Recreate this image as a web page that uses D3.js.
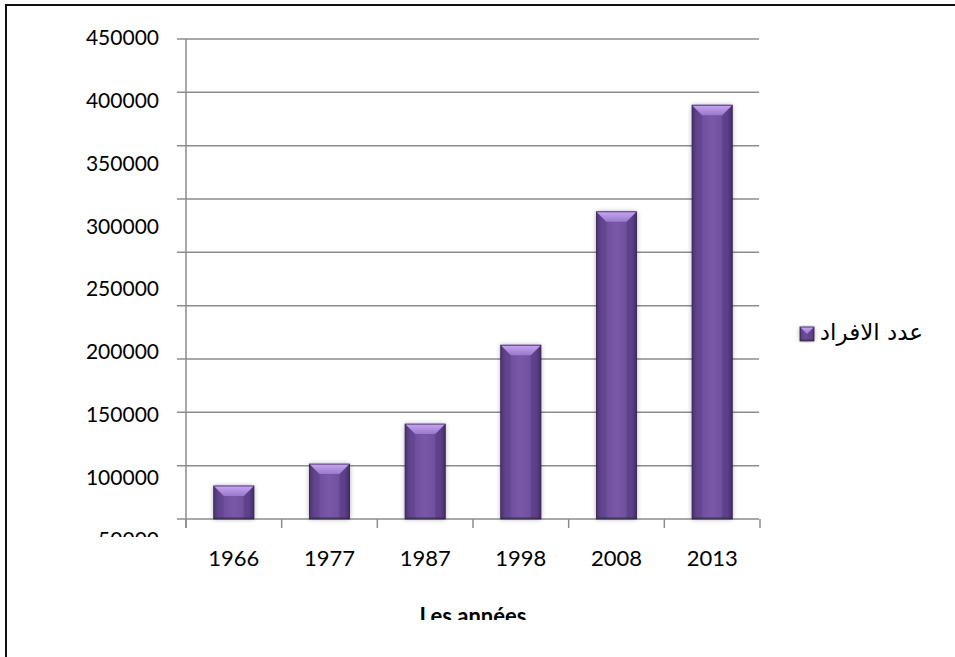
<!DOCTYPE html>
<html>
<head>
<meta charset="utf-8">
<script src="https://cdn.jsdelivr.net/npm/d3@7"></script>
<style>
  html, body { margin: 0; padding: 0; background: #fff; }
  svg { display: block; }
</style>
</head>
<body>
<svg id="chart" width="955" height="657"></svg>
<script>
// ── data ──
const years = ["1966", "1977", "1987", "1998", "2008", "2013"];
const population = [31000, 51500, 89000, 163000, 288000, 388000];
const gridValues = [0, 50000, 100000, 150000, 200000, 250000, 300000, 350000, 400000, 450000];
const tickLabels = [50000, 100000, 150000, 200000, 250000, 300000, 350000, 400000, 450000];
const seriesName = "عدد الافراد";
const axisTitle = "Les années";

const svg = d3.select("#chart");
const W = 955, H = 657;
const plot = { left: 186, right: 760, top: 39, bottom: 519 };

// gridline / bar scale and the (offset) label scale seen in the picture
const y = d3.scaleLinear().domain([0, 450000]).range([plot.bottom, plot.top]);
const yLbl = d3.scaleLinear().domain([50000, 450000]).range([540, 38]);
const x = d3.scaleBand().domain(years).range([plot.left, plot.right])
  .paddingInner(0.58).paddingOuter(0.29);

const defs = svg.append("defs");
defs.append("clipPath").attr("id", "clipY").append("rect")
  .attr("x", 0).attr("y", 0).attr("width", 180).attr("height", 537);
defs.append("clipPath").attr("id", "clipT").append("rect")
  .attr("x", 0).attr("y", 0).attr("width", W).attr("height", 620);

const gBody = defs.append("linearGradient").attr("id", "gBody").attr("x1", 0).attr("x2", 1).attr("y1", 0).attr("y2", 0);
[[0, "#4f3778"], [0.12, "#6a4b98"], [0.5, "#7a58a8"], [0.88, "#6a4b98"], [1, "#4a326f"]]
  .forEach(([o, c]) => gBody.append("stop").attr("offset", o).attr("stop-color", c));
const gTop = defs.append("linearGradient").attr("id", "gTop").attr("x1", 0).attr("x2", 0).attr("y1", 0).attr("y2", 1);
[[0, "#c6a6f0"], [1, "#9a78cc"]]
  .forEach(([o, c]) => gTop.append("stop").attr("offset", o).attr("stop-color", c));
const shadow = defs.append("filter").attr("id", "shd").attr("x", "-30%").attr("y", "-10%").attr("width", "160%").attr("height", "120%");
shadow.append("feDropShadow").attr("dx", 0).attr("dy", 0).attr("stdDeviation", 2.5)
  .attr("flood-color", "#000").attr("flood-opacity", 0.35);

svg.append("rect").attr("width", W).attr("height", H).attr("fill", "#fff");

// outer frame (right and bottom edges fall outside the picture)
svg.append("path").attr("d", `M6,${H + 5}V5H${W + 5}`)
  .attr("fill", "none").attr("stroke", "#111").attr("stroke-width", 2);

// gridlines
svg.append("g").selectAll("line").data(gridValues).join("line")
  .attr("x1", plot.left - 9).attr("x2", plot.right - 1)
  .attr("y1", d => y(d)).attr("y2", d => y(d))
  .attr("stroke", "#8c8c8c").attr("stroke-width", 1.5);

// y axis line
svg.append("line").attr("x1", plot.left).attr("x2", plot.left)
  .attr("y1", plot.top).attr("y2", plot.bottom + 9)
  .attr("stroke", "#8c8c8c").attr("stroke-width", 1.5);

// x ticks at band boundaries
const edges = d3.range(years.length + 1).map(i => plot.left + i * x.step());
svg.append("g").selectAll("line").data(edges).join("line")
  .attr("x1", d => d).attr("x2", d => d)
  .attr("y1", plot.bottom).attr("y2", plot.bottom + 9)
  .attr("stroke", "#8c8c8c").attr("stroke-width", 1.5);

// y labels
svg.append("g").attr("clip-path", "url(#clipY)").selectAll("text").data(tickLabels).join("text")
  .attr("x", 159).attr("y", d => yLbl(d)).attr("dy", "0.35em")
  .attr("text-anchor", "end")
  .style("font-family", "Lato, 'Open Sans', sans-serif").style("font-size", "21px").style("fill", "#000")
  .text(d => d);

// x labels
svg.append("g").selectAll("text").data(years).join("text")
  .attr("x", d => x(d) + x.bandwidth() / 2).attr("y", 558).attr("dy", "0.35em")
  .attr("text-anchor", "middle")
  .style("font-family", "Lato, 'Open Sans', sans-serif").style("font-size", "22px").style("fill", "#000")
  .text(d => d);

// axis title (clipped like the reference)
svg.append("text").attr("clip-path", "url(#clipT)")
  .attr("x", (plot.left + plot.right) / 2).attr("y", 624)
  .attr("text-anchor", "middle")
  .style("font-family", "Lato, 'Open Sans', sans-serif").style("font-size", "22px").style("font-weight", "700")
  .text(axisTitle);

// bevelled bar helper
function bevel(g, x0, y0, w, h, b) {
  g.append("rect").attr("x", x0).attr("y", y0).attr("width", w).attr("height", h)
    .attr("fill", "url(#gBody)").attr("filter", "url(#shd)");
  g.append("path")
    .attr("d", `M${x0},${y0}H${x0 + w}L${x0 + w - b},${y0 + b}H${x0 + b}Z`)
    .attr("fill", "url(#gTop)");
  g.append("path")
    .attr("d", `M${x0},${y0}L${x0 + b},${y0 + b}V${y0 + h}H${x0}Z`)
    .attr("fill", "#3a2560").attr("opacity", 0.18);
  g.append("path")
    .attr("d", `M${x0 + w},${y0}L${x0 + w - b},${y0 + b}V${y0 + h}H${x0 + w}Z`)
    .attr("fill", "#3a2560").attr("opacity", 0.28);
  g.append("rect").attr("x", x0).attr("y", y0 + h - 2).attr("width", w).attr("height", 2)
    .attr("fill", "#3a2560").attr("opacity", 0.4);
  g.append("rect").attr("x", x0).attr("y", y0).attr("width", w).attr("height", h)
    .attr("fill", "none").attr("stroke", "#2f1f4a").attr("stroke-width", 0.8);
}

const bars = svg.append("g");
years.forEach((yr, i) => {
  const v = population[i];
  bevel(bars.append("g"), x(yr), y(v), x.bandwidth(), y(0) - y(v), 10);
});

// legend
const lg = svg.append("g");
bevel(lg.append("g"), 800, 327, 14, 14, 7);
lg.append("text").attr("x", 923).attr("y", 332).attr("dy", "0.35em")
  .attr("text-anchor", "end")
  .style("font-family", "'DejaVu Sans', sans-serif").style("font-size", "23px").style("fill", "#000")
  .text(seriesName);
</script>
</body>
</html>
